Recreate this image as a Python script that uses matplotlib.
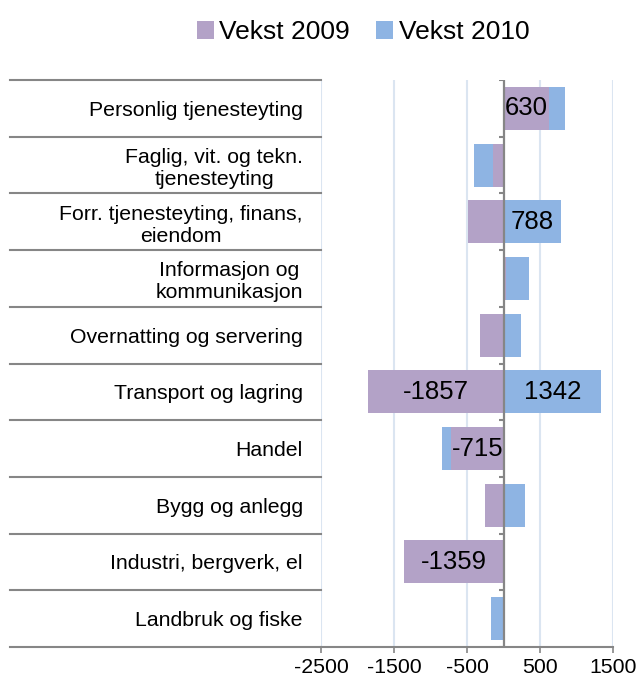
import numpy as np
import matplotlib
matplotlib.use('Agg')
from matplotlib import pyplot as plt

plt.rcParams['font.family'] = ['Liberation Sans', 'DejaVu Sans']

categories = ['Personlig tjenesteyting',
              'Faglig, vit. og tekn.\ntjenesteyting',
              'Forr. tjenesteyting, finans,\neiendom',
              'Informasjon og\nkommunikasjon',
              'Overnatting og servering',
              'Transport og lagring',
              'Handel',
              'Bygg og anlegg',
              'Industri, bergverk, el',
              'Landbruk og fiske']
vekst_2009 = np.array([630, -150, -480, 40, -320, -1857, -715, -250, -1359, 0])
vekst_2010 = np.array([210, -260, 788, 316, 233, 1342, -130, 300, 0, -175])
labels_2009 = ['630', '', '', '', '', '-1857', '-715', '', '-1359', '']
labels_2010 = ['', '', '788', '', '', '1342', '', '', '', '']
xticks = [-2500, -1500, -500, 500, 1500]

purple = '#b3a2c7'
blue = '#8eb4e3'
gray = '#868686'
grid = '#dbe5f1'

W, H = 639, 681
fig = plt.figure(figsize=(W / 100, H / 100), dpi=100)
ax = fig.add_axes([321 / W, 1 - 647 / H, 292 / W, 567 / H])

y = np.arange(len(categories))
# 2010 stacks on 2009 only when both go the same way
left_2010 = np.where(np.sign(vekst_2010) == np.sign(vekst_2009), vekst_2009, 0)

b1 = ax.barh(y, vekst_2009, height=0.76, color=purple, label='Vekst 2009', zorder=3)
b2 = ax.barh(y, vekst_2010, left=left_2010, height=0.76, color=blue, label='Vekst 2010', zorder=3)
ax.bar_label(b1, labels=labels_2009, label_type='center', fontsize=18.5, zorder=5)
ax.bar_label(b2, labels=labels_2010, label_type='center', fontsize=18.5, zorder=5)

ax.set_xlim(-2500, 1500)
ax.set_ylim(len(categories) - 0.5, -0.5)
ax.set_xticks(xticks)
ax.set_xticklabels([str(t) for t in xticks], fontsize=15.3)
ax.xaxis.grid(True, color=grid, lw=1.5, zorder=0)
ax.tick_params(axis='x', direction='out', length=4, color=gray, width=1.2, pad=4)

ax.set_yticks(y)
ax.set_yticklabels(categories, fontsize=15.3, multialignment='center')
ax.tick_params(axis='y', length=0, pad=13)

for s in ['top', 'left', 'right']:
    ax.spines[s].set_visible(False)
ax.spines['bottom'].set_color(gray)
ax.spines['bottom'].set_linewidth(1.5)

# zero axis with small ticks at category boundaries
ax.axvline(0, color=gray, lw=1.6, zorder=4)
bounds = np.arange(len(categories) + 1) - 0.5
ax.hlines(bounds, -55, 0, color=gray, lw=1.5, zorder=4)

# separator lines in the label area
tr = ax.get_yaxis_transform()
x0 = (10 - 321) / 292
for b in bounds:
    ax.plot([x0, 0], [b, b], color=gray, lw=1.5, transform=tr, clip_on=False)

fig.legend(loc='center', bbox_to_anchor=(363 / W, 1 - 32 / H), ncol=2, frameon=False,
           fontsize=19, handlelength=0.65, handleheight=0.65, handletextpad=0.2,
           columnspacing=1.0)

fig.savefig('out.png', dpi=100)
